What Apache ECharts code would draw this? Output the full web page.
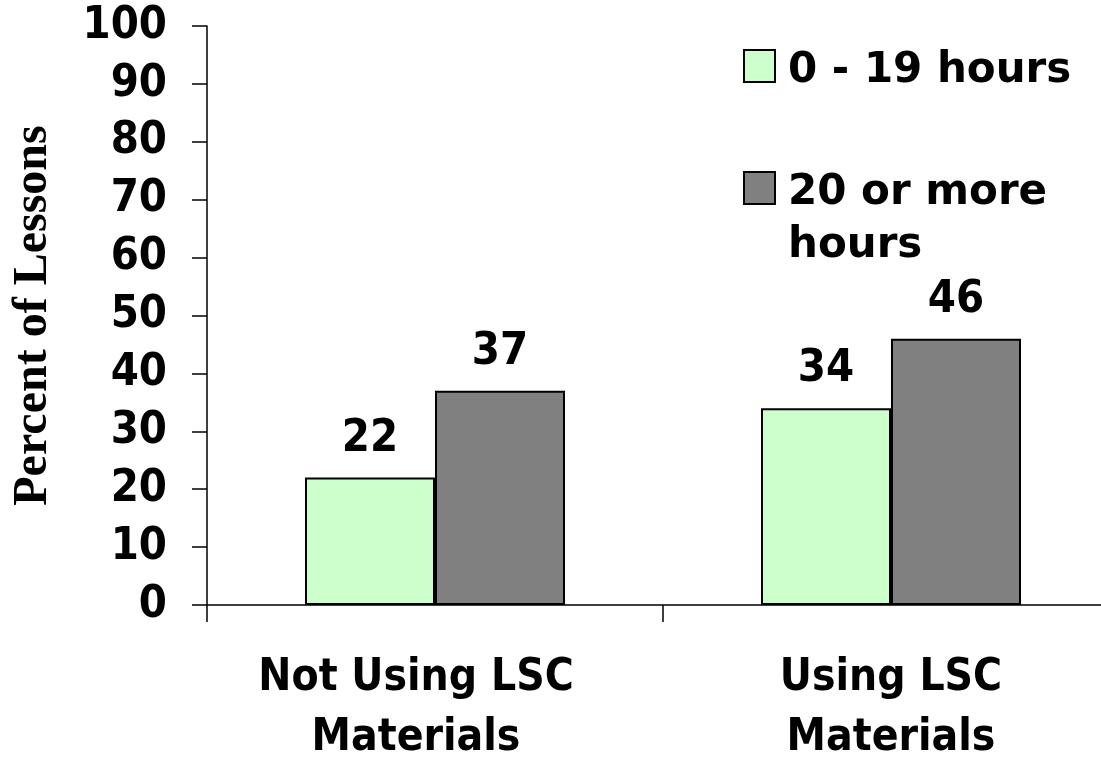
<!DOCTYPE html>
<html>
<head>
<meta charset="utf-8">
<style>
  html, body { margin: 0; padding: 0; background: #fff; overflow: hidden; }
  #chart { width: 1101px; height: 758px; }
</style>
<script src="https://cdn.jsdelivr.net/npm/echarts@6/dist/echarts.min.js"></script>
</head>
<body>
<div id="chart"></div>
<script>
// Lesson groups along the x axis
const categories = ['Not Using LSC\nMaterials', 'Using LSC\nMaterials'];
// Hours of professional development
const seriesNames = ['0 - 19 hours', '20 or more hours'];
const lowHours = [22, 34];
const highHours = [37, 46];
// Value axis ticks
const yMin = 0;
const yMax = 100;
const yStep = 10;

const SANS_NARROW = '"DejaVu Sans Condensed", "DejaVu Sans", sans-serif';
const SANS = '"DejaVu Sans", sans-serif';
const SERIF = '"Liberation Serif", "Times New Roman", serif';

const chart = echarts.init(document.getElementById('chart'), null, { renderer: 'canvas' });

const barLabel = {
  show: true,
  position: 'top',
  distance: 16,
  fontFamily: SANS_NARROW,
  fontWeight: 'bold',
  fontSize: 45,
  color: '#000'
};

const legendText = {
  fontFamily: SANS,
  fontWeight: 'bold',
  fontSize: 42,
  lineHeight: 53,
  color: '#000',
  padding: [0, 0, 0, 8],
  rich: {
    // thin spacer line that nudges the label text below the swatch centre
    gap1: { fontSize: 8, lineHeight: 10 },
    gap2: { fontSize: 8, lineHeight: 63 }
  }
};

const legendBase = {
  orient: 'vertical',
  left: 743,
  padding: 0,
  itemWidth: 31,
  itemHeight: 32,
  icon: 'rect',
  itemStyle: { borderColor: '#000', borderWidth: 2 },
  textStyle: legendText
};

chart.setOption({
  animation: false,
  backgroundColor: '#ffffff',
  grid: {
    left: 207, top: 26, width: 912, height: 579,
    containLabel: false,
    outerBoundsMode: 'none'
  },
  legend: [
    Object.assign({}, legendBase, {
      top: 34.5,
      data: [seriesNames[0]],
      formatter: (name) => '{gap1| }\n' + name
    }),
    Object.assign({}, legendBase, {
      top: 103.5,
      data: [seriesNames[1]],
      // wrap after "more" and keep the first line level with the swatch
      formatter: (name) => '{gap2| }\n' + name.replace(' more ', ' more\n')
    })
  ],
  xAxis: {
    type: 'category',
    data: [
      { value: categories[0], textStyle: { padding: [0, 38, 0, 0] } },
      { value: categories[1] }
    ],
    boundaryGap: true,
    axisLine: { show: true, lineStyle: { color: '#000', width: 1.5 } },
    axisTick: { show: true, length: 17, alignWithLabel: false, lineStyle: { color: '#000', width: 1.5 } },
    axisLabel: {
      margin: 44,
      fontFamily: SANS_NARROW,
      fontWeight: 'bold',
      fontSize: 44,
      lineHeight: 60,
      color: '#000',
      align: 'center'
    },
    splitLine: { show: false }
  },
  yAxis: {
    type: 'value',
    min: yMin,
    max: yMax,
    interval: yStep,
    name: 'Percent of Lessons',
    nameLocation: 'middle',
    nameGap: 149,
    nameTextStyle: {
      fontFamily: SERIF,
      fontWeight: 'bold',
      fontSize: 48,
      color: '#000'
    },
    axisLine: { show: true, lineStyle: { color: '#000', width: 1.5 } },
    axisTick: { show: true, length: 15, lineStyle: { color: '#000', width: 1.5 } },
    axisLabel: {
      margin: 40,
      fontFamily: SANS_NARROW,
      fontWeight: 'bold',
      fontSize: 45,
      color: '#000'
    },
    splitLine: { show: false }
  },
  series: [
    {
      name: seriesNames[0],
      type: 'bar',
      data: lowHours,
      barWidth: 130,
      barGap: '0%',
      itemStyle: { color: '#CCFFCC', borderColor: '#000', borderWidth: 2 },
      label: barLabel
    },
    {
      name: seriesNames[1],
      type: 'bar',
      data: highHours,
      barWidth: 130,
      barGap: '0%',
      itemStyle: { color: '#808080', borderColor: '#000', borderWidth: 2 },
      label: barLabel
    }
  ]
});
</script>
</body>
</html>
